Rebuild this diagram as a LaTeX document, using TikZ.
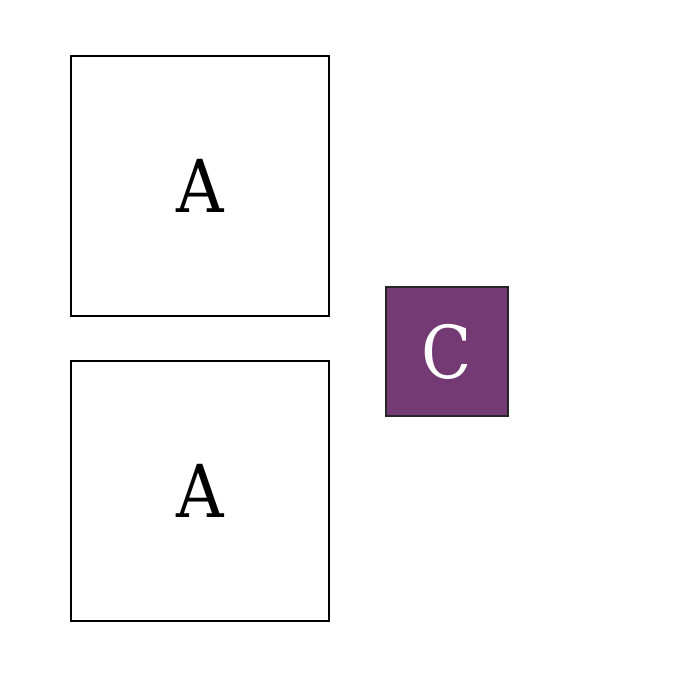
\documentclass[tikz,border=0pt]{standalone}
\usepackage{fontspec}
\setmainfont{DejaVu Serif Condensed}
\definecolor{cpurple}{RGB}{115,58,115}
\begin{document}
\begin{tikzpicture}[x=1bp,y=-1bp,
  abox/.style={draw=black,line width=2bp,fill=white,minimum width=258bp,minimum height=260bp,inner sep=0pt,font=\fontsize{73bp}{80bp}\selectfont},
  cbox/.style={draw=black!85,line width=1.5bp,fill=cpurple,text=white,minimum width=122bp,minimum height=129bp,inner sep=0pt,font=\fontsize{73bp}{80bp}\selectfont}]
\useasboundingbox (0,0) rectangle (700,700);
\node[abox] (a1) at (200,186) {A};
\node[abox] (a2) at (200,490.5) {A};
\node[cbox] (c) at (447,351.5) {C};
\end{tikzpicture}
\end{document}
